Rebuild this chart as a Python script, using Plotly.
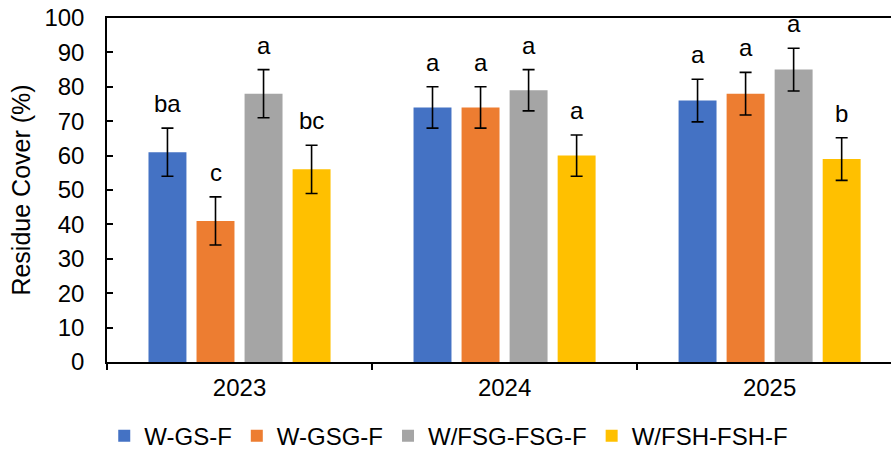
import plotly.graph_objects as go

years = ["2023", "2024", "2025"]
series_names = ["W-GS-F", "W-GSG-F", "W/FSG-FSG-F", "W/FSH-FSH-F"]
colors = ["#4472C4", "#ED7D31", "#A5A5A5", "#FFC000"]

w_gs_f = [61, 74, 76]
w_gsg_f = [41, 74, 78]
w_fsg_fsg_f = [78, 79, 85]
w_fsh_fsh_f = [56, 60, 59]

err_w_gs_f = [7, 6, 6.2]
err_w_gsg_f = [7, 6, 6.2]
err_w_fsg_fsg_f = [7, 6, 6.2]
err_w_fsh_fsh_f = [7, 6, 6.2]

letters_w_gs_f = ["ba", "a", "a"]
letters_w_gsg_f = ["c", "a", "a"]
letters_w_fsg_fsg_f = ["a", "a", "a"]
letters_w_fsh_fsh_f = ["bc", "a", "b"]

values = [w_gs_f, w_gsg_f, w_fsg_fsg_f, w_fsh_fsh_f]
errors = [err_w_gs_f, err_w_gsg_f, err_w_fsg_fsg_f, err_w_fsh_fsh_f]
letters = [letters_w_gs_f, letters_w_gsg_f, letters_w_fsg_fsg_f, letters_w_fsh_fsh_f]

FONT = "Arial, Liberation Sans, sans-serif"
BARGAP = 0.275
BARGROUPGAP = 0.21

fig = go.Figure()
for name, color, vals, errs in zip(series_names, colors, values, errors):
    fig.add_trace(go.Bar(
        x=years, y=vals, name=name, marker=dict(color=color, line=dict(width=0)),
        error_y=dict(type="data", array=errs, visible=True, color="black",
                     thickness=1.6, width=6),
    ))

n = len(series_names)
slot = (1 - BARGAP) / n
annotations = []
for i in range(n):
    for j in range(len(years)):
        annotations.append(dict(
            x=j + (i - (n - 1) / 2) * slot, y=values[i][j] + errors[i][j],
            xref="x", yref="y", text=letters[i][j], showarrow=False,
            yanchor="bottom", yshift=9, font=dict(family=FONT, size=24, color="black"),
        ))

fig.update_layout(
    width=891, height=450,
    margin=dict(l=107, r=0, t=18, b=88),
    paper_bgcolor="white", plot_bgcolor="white",
    barmode="group", bargap=BARGAP, bargroupgap=BARGROUPGAP,
    font=dict(family=FONT, size=24, color="black"),
    showlegend=True,
    legend=dict(orientation="h", xref="container", yref="container",
                x=0.117, y=0.031, xanchor="left", yanchor="middle",
                font=dict(family=FONT, size=24, color="black"),
                itemwidth=30, bgcolor="rgba(0,0,0,0)"),
    annotations=annotations,
)
fig.update_xaxes(
    type="category", categoryorder="array", categoryarray=years,
    range=[-0.5, 2.458], showline=True, linecolor="black", linewidth=1.5,
    mirror=True, ticks="outside", tickson="boundaries", ticklen=6,
    tickcolor="black", tickwidth=1.5, showgrid=False, ticklabelstandoff=3,
    tickfont=dict(family=FONT, size=24, color="black"),
)
fig.update_yaxes(
    range=[0, 100], dtick=10, showline=True, linecolor="black", linewidth=1.5,
    ticks="inside", ticklen=6, tickcolor="black", tickwidth=1.5,
    showgrid=False, zeroline=False, ticklabelstandoff=16,
    tickfont=dict(family=FONT, size=24, color="black"),
    title=dict(text="Residue Cover (%)", standoff=7,
               font=dict(family=FONT, size=25, color="black")),
)

fig.write_html("out.html", post_script="document.body.style.margin='0';",
               config={"displayModeBar": False})
